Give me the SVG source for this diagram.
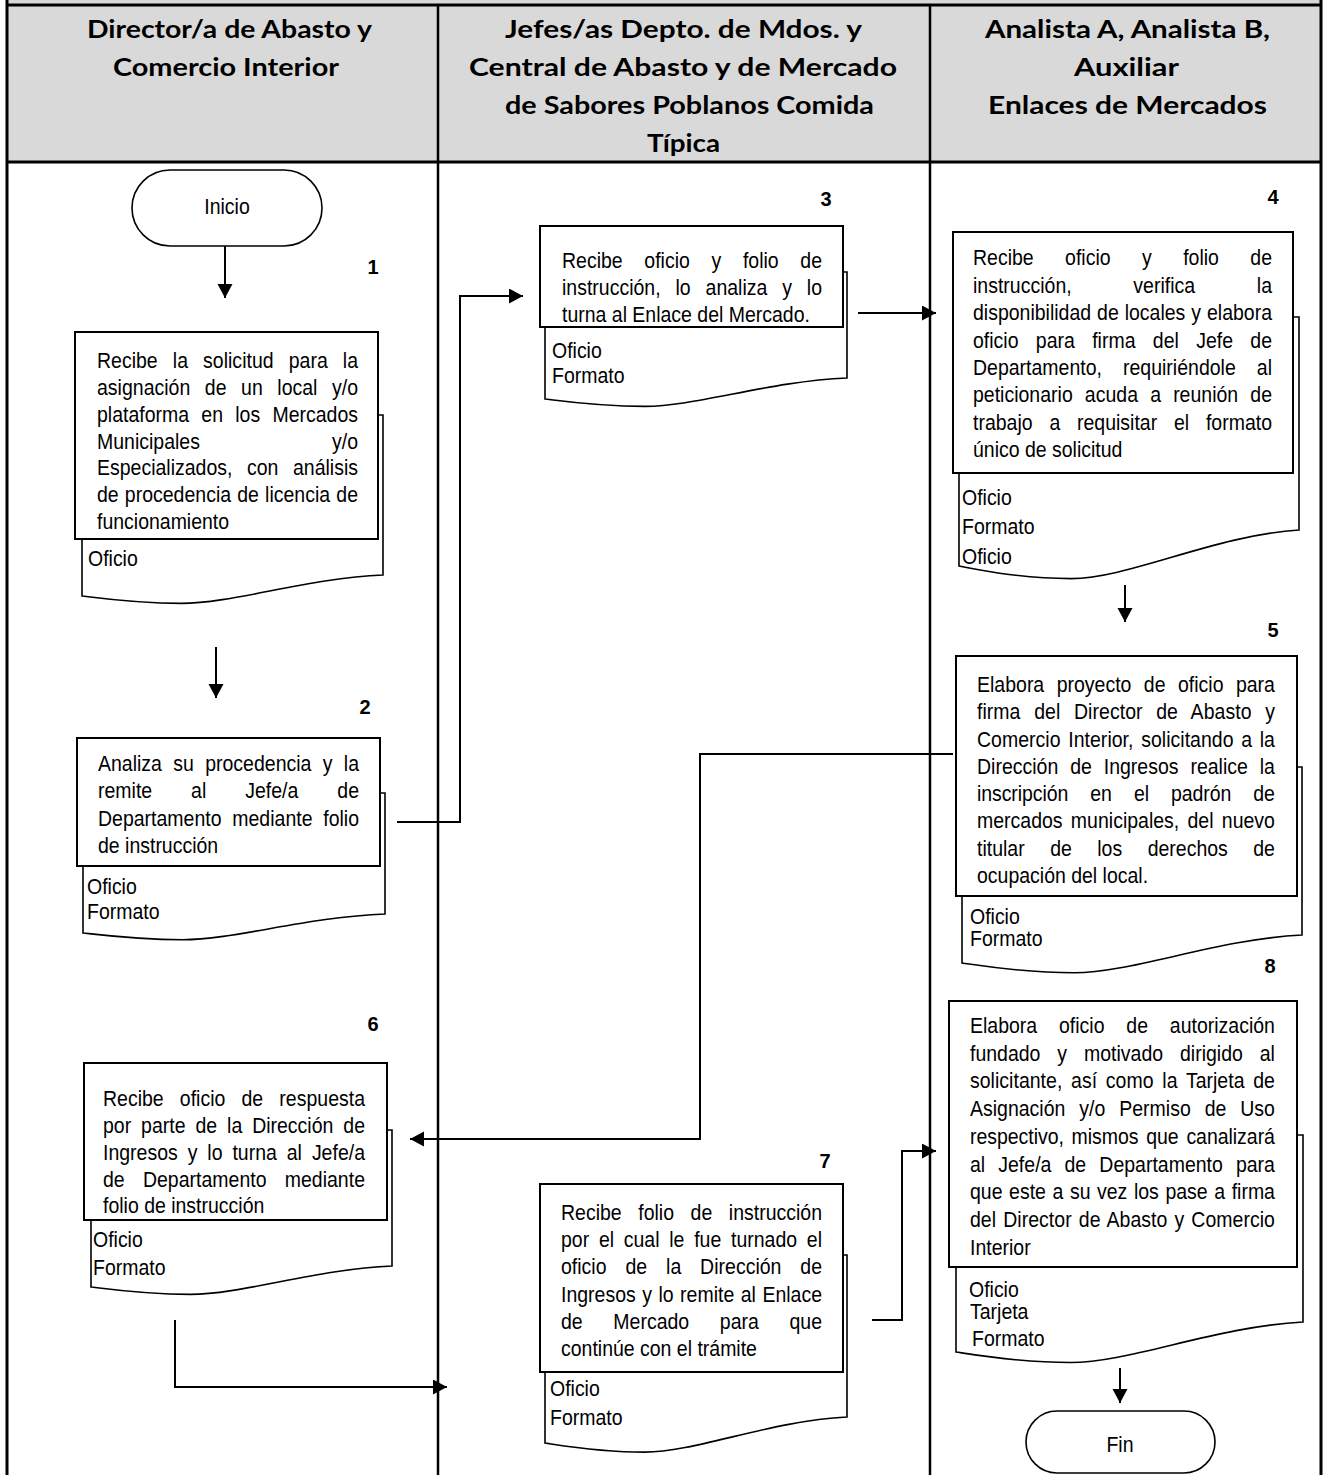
<svg xmlns="http://www.w3.org/2000/svg" width="1326" height="1475" viewBox="0 0 1326 1475">
<style>
.b{font-family:"Liberation Sans",Arial,sans-serif;font-size:22px;fill:#000}
.n{font-family:"Liberation Sans",Arial,sans-serif;font-size:20px;font-weight:bold;text-anchor:middle;fill:#000}
.h{font-family:Lato,"Liberation Sans",sans-serif;font-size:25px;font-weight:700;fill:#000}
.r{fill:#fff;stroke:#000;stroke-width:2}
.d{fill:#fff;stroke:#000;stroke-width:1.6}
.c{fill:none;stroke:#000;stroke-width:2}
.fr{stroke:#000;stroke-width:3;fill:none}
.dv{stroke:#000;stroke-width:2.5;fill:none}
</style>
<defs>
<marker id="ah" markerUnits="userSpaceOnUse" markerWidth="16" markerHeight="16" refX="14" refY="7.5" orient="auto">
<path d="M0,0 L14,7.5 L0,15 Z" fill="#000"/>
</marker>
</defs>
<rect x="0" y="0" width="1326" height="1475" fill="#fff"/>
<g id="frame">
<rect x="7" y="0" width="1314" height="162" fill="#d9d9d9"/>
<line class="fr" x1="7" y1="5" x2="1321" y2="5"/>
<line class="fr" x1="7" y1="162" x2="1321" y2="162"/>
<line class="fr" x1="7" y1="0" x2="7" y2="1475"/>
<line class="fr" x1="1321" y1="0" x2="1321" y2="1475"/>
<line class="dv" x1="438" y1="5" x2="438" y2="1475"/>
<line class="dv" x1="930" y1="5" x2="930" y2="1475"/>
</g>
<g id="headers">
<text class="h" x="87" y="37.5" textLength="285" lengthAdjust="spacingAndGlyphs">Director/a de Abasto y</text>
<text class="h" x="113" y="75.5" textLength="226" lengthAdjust="spacingAndGlyphs">Comercio Interior</text>
<text class="h" x="505" y="37.5" textLength="357" lengthAdjust="spacingAndGlyphs">Jefes/as Depto. de Mdos. y</text>
<text class="h" x="469" y="75.5" textLength="428" lengthAdjust="spacingAndGlyphs">Central de Abasto y de Mercado</text>
<text class="h" x="505" y="113.5" textLength="369" lengthAdjust="spacingAndGlyphs">de Sabores Poblanos Comida</text>
<text class="h" x="647" y="151.5" textLength="73" lengthAdjust="spacingAndGlyphs">Típica</text>
<text class="h" x="985" y="37.5" textLength="285" lengthAdjust="spacingAndGlyphs">Analista A, Analista B,</text>
<text class="h" x="1074" y="75.5" textLength="105" lengthAdjust="spacingAndGlyphs">Auxiliar</text>
<text class="h" x="988" y="113.5" textLength="279" lengthAdjust="spacingAndGlyphs">Enlaces de Mercados</text>
</g>
<g id="connectors">
<path class="c" d="M225,246 V298" marker-end="url(#ah)"/>
<path class="c" d="M216,647 V698" marker-end="url(#ah)"/>
<path class="c" d="M397,822 H460 V296 H523" marker-end="url(#ah)"/>
<path class="c" d="M858,313 H936" marker-end="url(#ah)"/>
<path class="c" d="M1125,585 V622" marker-end="url(#ah)"/>
<path class="c" d="M953,754 H700 V1139 H410" marker-end="url(#ah)"/>
<path class="c" d="M175,1320 V1387 H447" marker-end="url(#ah)"/>
<path class="c" d="M872,1320 H902 V1151 H936" marker-end="url(#ah)"/>
<path class="c" d="M1120,1368 V1403" marker-end="url(#ah)"/>
</g>
<g id="inicio">
<rect class="d" x="132" y="170" width="190" height="76" rx="38"/>
<g transform="translate(227 0) scale(.886 1)"><text class="b" x="0" y="214" text-anchor="middle">Inicio</text></g>
</g>
<g id="step1">
<path class="d" d="M82,415 H383 V575 C307.8,578.2 232.5,603.4 181.3,603.4 C136.2,603.4 100.1,598.2 82,596 Z"/>
<rect class="r" x="75" y="332" width="303" height="207"/>
<text class="n" x="373" y="274">1</text>
<g class="b" transform="translate(97 0) scale(.886 1)">
<text y="368.5" word-spacing="10.9" textLength="294.6">Recibe la solicitud para la</text>
<text y="395.2" word-spacing="10.3" textLength="294.6">asignación de un local y/o</text>
<text y="421.9" word-spacing="7.7" textLength="294.6">plataforma en los Mercados</text>
<text y="448.6" word-spacing="142.9" textLength="294.6">Municipales y/o</text>
<text y="475.3" word-spacing="10.3" textLength="294.6">Especializados, con análisis</text>
<text y="502" word-spacing="0.85" textLength="294.6">de procedencia de licencia de</text>
<text y="528.7">funcionamiento</text>
</g>
<g class="b" transform="translate(88 0) scale(.886 1)"><text y="566">Oficio</text></g>
</g>
<g id="step2">
<path class="d" d="M83,793 H385 V914 C307.5,916.9 234,939.7 182.7,939.7 C137.4,939.7 101.1,935 83,933 Z"/>
<rect class="r" x="77" y="738" width="303" height="128"/>
<text class="n" x="365" y="714">2</text>
<g class="b" transform="translate(98 0) scale(.886 1)">
<text y="771" word-spacing="6.7" textLength="294.6">Analiza su procedencia y la</text>
<text y="798.5" word-spacing="37.8" textLength="294.6">remite al Jefe/a de</text>
<text y="826" word-spacing="6" textLength="294.6">Departamento mediante folio</text>
<text y="853.5">de instrucción</text>
</g>
<g class="b" transform="translate(87 0) scale(.886 1)"><text y="894">Oficio</text><text y="919.5">Formato</text></g>
</g>
<g id="step3">
<path class="d" d="M545,272 H847 V378 C769.5,381.2 696,406.4 644.7,406.4 C599.4,406.4 563.1,401.2 545,399 Z"/>
<rect class="r" x="540" y="226" width="303" height="101"/>
<text class="n" x="826" y="206">3</text>
<g class="b" transform="translate(562 0) scale(.886 1)">
<text y="268" word-spacing="18.3" textLength="293.5">Recibe oficio y folio de</text>
<text y="295" word-spacing="10.7" textLength="293.5">instrucción, lo analiza y lo</text>
<text y="322">turna al Enlace del Mercado.</text>
</g>
<g class="b" transform="translate(552 0) scale(.886 1)"><text y="358">Oficio</text><text y="383">Formato</text></g>
</g>
<g id="step4">
<path class="d" d="M959,317 H1299 V530 C1214,535.4 1129,578.6 1071.2,578.6 C1020.2,578.6 979.4,569.8 959,566 Z"/>
<rect class="r" x="953" y="232" width="340" height="241"/>
<text class="n" x="1273" y="204">4</text>
<g class="b" transform="translate(973 0) scale(.886 1)">
<text y="265.5" word-spacing="29.3" textLength="337.5">Recibe oficio y folio de</text>
<text y="292.9" word-spacing="63.5" textLength="337.5">instrucción, verifica la</text>
<text y="320.3" word-spacing="0.6" textLength="337.5">disponibilidad de locales y elabora</text>
<text y="347.7" word-spacing="13.4" textLength="337.5">oficio para firma del Jefe de</text>
<text y="375.1" word-spacing="17.7" textLength="337.5">Departamento, requiriéndole al</text>
<text y="402.5" word-spacing="7.6" textLength="337.5">peticionario acuda a reunión de</text>
<text y="429.9" word-spacing="12.8" textLength="337.5">trabajo a requisitar el formato</text>
<text y="457.3">único de solicitud</text>
</g>
<g class="b" transform="translate(962 0) scale(.886 1)"><text y="505.5">Oficio</text><text y="534.5">Formato</text><text y="564">Oficio</text></g>
</g>
<g id="step5">
<path class="d" d="M962,767 H1302 V935 C1217,939.2 1132,972.8 1074.2,972.8 C1023.2,972.8 982.4,965.9 962,963 Z"/>
<rect class="r" x="956" y="656" width="341" height="240"/>
<text class="n" x="1273" y="637">5</text>
<g class="b" transform="translate(977 0) scale(.886 1)">
<text y="692" word-spacing="7.9" textLength="336.3">Elabora proyecto de oficio para</text>
<text y="719.3" word-spacing="9.3" textLength="336.3">firma del Director de Abasto y</text>
<text y="746.6" word-spacing="2.5" textLength="336.3">Comercio Interior, solicitando a la</text>
<text y="773.9" word-spacing="7.3" textLength="336.3">Dirección de Ingresos realice la</text>
<text y="801.2" word-spacing="18.9" textLength="336.3">inscripción en el padrón de</text>
<text y="828.5" word-spacing="3.2" textLength="336.3">mercados municipales, del nuevo</text>
<text y="855.8" word-spacing="22.6" textLength="336.3">titular de los derechos de</text>
<text y="883.1">ocupación del local.</text>
</g>
<g class="b" transform="translate(970 0) scale(.886 1)"><text y="924">Oficio</text><text y="946">Formato</text></g>
</g>
<g id="step6">
<path class="d" d="M91,1130 H392 V1266 C316.8,1269.2 241.5,1294.4 190.3,1294.4 C145.2,1294.4 109.1,1289.2 91,1287 Z"/>
<rect class="r" x="84" y="1063" width="303" height="157"/>
<text class="n" x="373" y="1031">6</text>
<g class="b" transform="translate(103 0) scale(.886 1)">
<text y="1106" word-spacing="12.1" textLength="295.7">Recibe oficio de respuesta</text>
<text y="1133" word-spacing="5.1" textLength="295.7">por parte de la Dirección de</text>
<text y="1160" word-spacing="5.1" textLength="295.7">Ingresos y lo turna al Jefe/a</text>
<text y="1187" word-spacing="14.5" textLength="295.7">de Departamento mediante</text>
<text y="1213">folio de instrucción</text>
</g>
<g class="b" transform="translate(93 0) scale(.886 1)"><text y="1247">Oficio</text><text y="1275">Formato</text></g>
</g>
<g id="step7">
<path class="d" d="M545,1255 H847 V1417 C769.5,1420.9 696,1452.1 644.7,1452.1 C599.4,1452.1 563.1,1445.7 545,1443 Z"/>
<rect class="r" x="540" y="1184" width="303" height="188"/>
<text class="n" x="825" y="1168">7</text>
<g class="b" transform="translate(561 0) scale(.886 1)">
<text y="1220" word-spacing="12.6" textLength="294.6">Recibe folio de instrucción</text>
<text y="1247.2" word-spacing="4.85" textLength="294.6">por el cual le fue turnado el</text>
<text y="1274.4" word-spacing="15.2" textLength="294.6">oficio de la Dirección de</text>
<text y="1301.6" word-spacing="1.2" textLength="294.6">Ingresos y lo remite al Enlace</text>
<text y="1328.8" word-spacing="28.5" textLength="294.6">de Mercado para que</text>
<text y="1356">continúe con el trámite</text>
</g>
<g class="b" transform="translate(550 0) scale(.886 1)"><text y="1396">Oficio</text><text y="1425">Formato</text></g>
</g>
<g id="step8">
<path class="d" d="M956,1135 H1303 V1322 C1216.3,1326.5 1129.5,1362.5 1070.5,1362.5 C1018.5,1362.5 976.8,1355.2 956,1352 Z"/>
<rect class="r" x="949" y="1001" width="348" height="266"/>
<text class="n" x="1270" y="973">8</text>
<g class="b" transform="translate(970 0) scale(.886 1)">
<text y="1033" word-spacing="18.5" textLength="344.2">Elabora oficio de autorización</text>
<text y="1060.75" word-spacing="13" textLength="344.2">fundado y motivado dirigido al</text>
<text y="1088.5" word-spacing="3.7" textLength="344.2">solicitante, así como la Tarjeta de</text>
<text y="1116.25" word-spacing="9.6" textLength="344.2">Asignación y/o Permiso de Uso</text>
<text y="1144" word-spacing="2.6" textLength="344.2">respectivo, mismos que canalizará</text>
<text y="1171.75" word-spacing="8.7" textLength="344.2">al Jefe/a de Departamento para</text>
<text y="1199.5" word-spacing="1.3" textLength="344.2">que este a su vez los pase a firma</text>
<text y="1227.25" word-spacing="1.8" textLength="344.2">del Director de Abasto y Comercio</text>
<text y="1255">Interior</text>
</g>
<g class="b" transform="translate(969 0) scale(.886 1)"><text y="1297">Oficio</text></g>
<g class="b" transform="translate(970 0) scale(.886 1)"><text y="1319">Tarjeta</text></g>
<g class="b" transform="translate(972 0) scale(.886 1)"><text y="1346">Formato</text></g>
</g>
<g id="fin">
<rect class="d" x="1026" y="1411" width="189" height="62" rx="31"/>
<g transform="translate(1120 0) scale(.886 1)"><text class="b" x="0" y="1452" text-anchor="middle">Fin</text></g>
</g>
</svg>
